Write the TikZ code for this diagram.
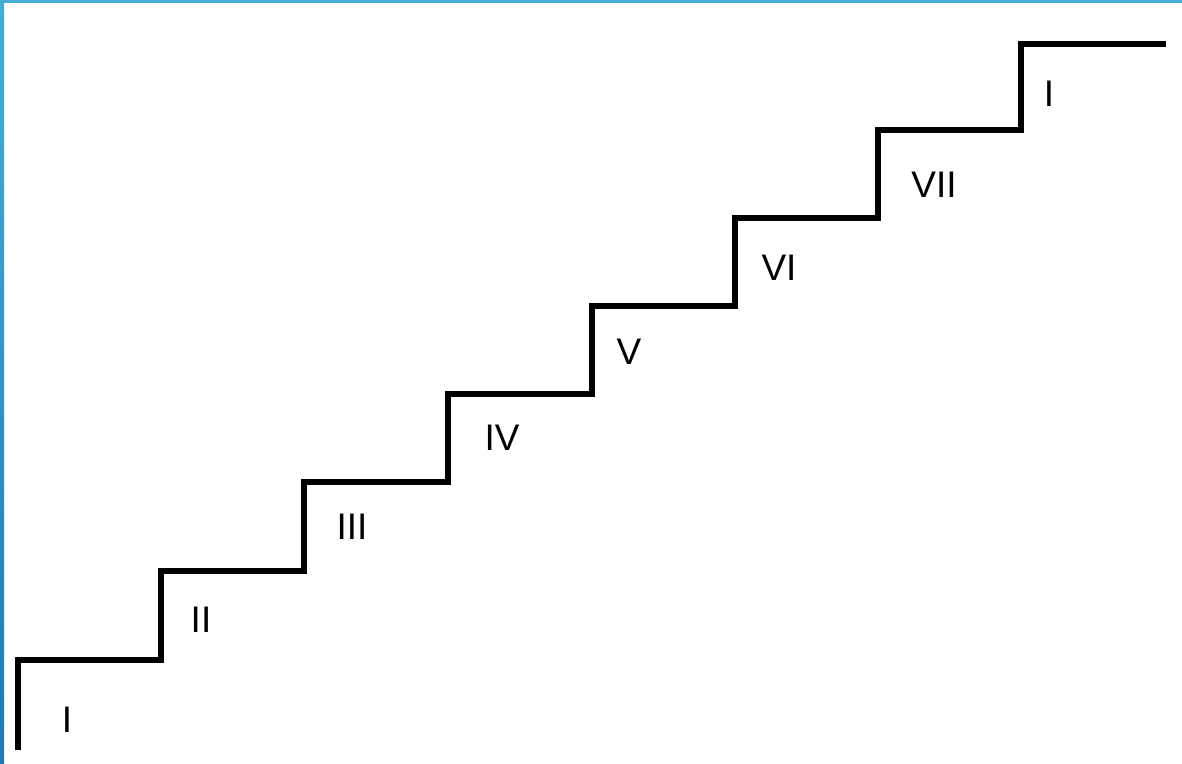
\documentclass[tikz,border=0pt]{standalone}
\usepackage{fontspec}
\setmainfont{Liberation Sans}
\definecolor{frametop}{HTML}{45AED6}
\definecolor{framebot}{HTML}{1F7AB2}

\begin{document}
\begin{tikzpicture}[x=1pt, y=1pt,
    degree/.style={font=\fontsize{37}{40}\selectfont, inner sep=0pt}]
    \useasboundingbox (0,0) rectangle (1182,763);
    % frame
    \fill [frametop] (0,760) rectangle (1182,763);
    \shade [top color=frametop, bottom color=framebot] (0,0) rectangle (4,763);
    % stairs
    \draw [line width=6pt] (18,13) -- (18,103) -- (161,103) -- (161,192) -- (304,192)
        -- (304,281) -- (448,281) -- (448,369) -- (592,369) -- (592,457) -- (735,457)
        -- (735,545) -- (878,545) -- (878,633) -- (1021,633) -- (1021,719) -- (1166,719);
    % degrees
    \node [degree] (d1) at (67,43) {I};
    \node [degree] (d2) at (201,143) {II};
    \node [degree] (d3) at (352,236) {III};
    \node [degree] (d4) at (502,325) {IV};
    \node [degree] (d5) at (629,411) {V};
    \node [degree] (d6) at (779,495) {VI};
    \node [degree] (d7) at (934,578) {VII};
    \node [degree] (d8) at (1049,669) {I};
\end{tikzpicture}
\end{document}
